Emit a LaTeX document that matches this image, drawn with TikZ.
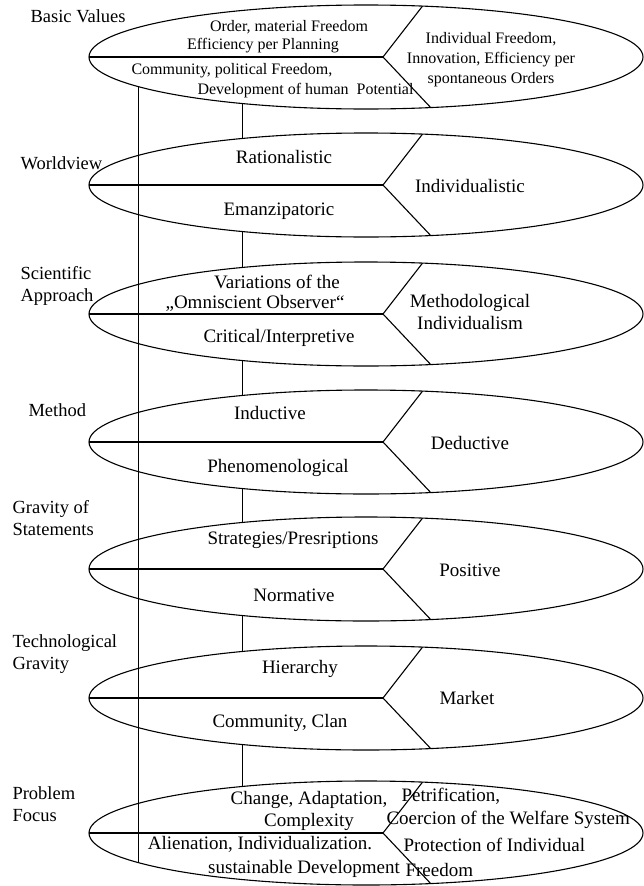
\documentclass[tikz,border=0pt]{standalone}
\usepackage{fontspec}
\setmainfont{Liberation Serif}
\usetikzlibrary{shapes.geometric,calc}

\begin{document}
\begin{tikzpicture}[x=1pt, y=-1pt, line width=1.1pt,
    field/.style={ellipse, draw, minimum width=554pt, minimum height=104pt, inner sep=0pt, outer sep=0pt},
    item/.style={font=\fontsize{19}{22.5}\selectfont, inner sep=0pt, align=center},
    fine/.style={font=\fontsize{16}{20}\selectfont, inner sep=0pt, align=center},
    heading/.style={font=\fontsize{18.5}{21.5}\selectfont, inner sep=0pt, align=left, anchor=west}]
    \useasboundingbox (0,0) rectangle (644,886);

    % the seven levels
    \node[field] (values)  at (366,57)  {};
    \node[field] (world)   at (366,185) {};
    \node[field] (science) at (366,314) {};
    \node[field] (method)  at (366,442) {};
    \node[field] (gravity) at (366,569) {};
    \node[field] (techno)  at (366,698) {};
    \node[field] (problem) at (366,833) {};

    \foreach \f in {values,world,science,method,gravity,techno,problem} {
        \coordinate (\f-tip) at ($(\f.center)+(17,0)$);
        \draw (\f.west) -- (\f-tip);
        \draw (\f.42) -- (\f-tip) -- (\f.-38.5);
    }

    % links
    \draw ([xshift=-2pt]values.201)  -- ([xshift=-2pt]values.201 |- world.159);
    \draw ([xshift=-2pt]world.201)   -- ([xshift=-2pt]world.201 |- science.159);
    \draw ([xshift=-2pt]science.201) -- ([xshift=-2pt]science.201 |- method.159);
    \draw ([xshift=-2pt]method.201)  -- ([xshift=-2pt]method.201 |- gravity.159);
    \draw ([xshift=-2pt]gravity.201) -- ([xshift=-2pt]gravity.201 |- techno.159);
    \draw ([xshift=-2pt]techno.201)  -- ([xshift=-2pt]techno.201 |- problem.159);
    \draw ([xshift=4pt, yshift=-1pt]values.187) -- ([xshift=4pt, yshift=-1pt]values.187 |- problem.187);

    % headings
    \node[heading] (values-h)  at (30,16)   {Basic Values};
    \node[heading] (world-h)   at (20,163)  {Worldview};
    \node[heading] (science-h) at (20,286)  {Scientific\\Approach};
    \node[heading] (method-h)  at (28,410)  {Method};
    \node[heading] (gravity-h) at (12,518)  {Gravity of\\Statements};
    \node[heading] (techno-h)  at (12,654)  {Technological\\Gravity};
    \node[heading] (problem-h) at (12,804)  {Problem\\Focus};

    % Basic Values
    \node[fine] (order) at (289,27) {Order, material Freedom};
    \node[fine] (plan)  at (263,46) {Efficiency per Planning};
    \node[fine, anchor=west] (comm)  at (131,71) {Community, political Freedom,};
    \node[fine, anchor=west] (human) at (197,91) {Development of human\ \ Potential};
    \node[fine] (free) at (491,60) {Individual Freedom,\\Innovation, Efficiency per\\spontaneous Orders};

    % Worldview
    \node[item] (ratio) at (284,157) {Rationalistic};
    \node[item] (eman)  at (279,211) {Emanzipatoric};
    \node[item] (indi)  at (470,186) {Individualistic};

    % Scientific Approach
    \node[item] (vari)  at (277,282) {Variations of the};
    \node[item] (omni)  at (255,303) {„Omniscient Observer“};
    \node[item] (crit)  at (279,338) {Critical/Interpretive};
    \node[item] (metho) at (470,312) {Methodological\\Individualism};

    % Method
    \node[item] (induc) at (270,413) {Inductive};
    \node[item] (pheno) at (278,468) {Phenomenological};
    \node[item] (deduc) at (470,443) {Deductive};

    % Gravity of Statements
    \node[item] (strat) at (293,540) {Strategies/Presriptions};
    \node[item] (norm)  at (294,595) {Normative};
    \node[item] (posit) at (470,570) {Positive};

    % Technological Gravity
    \node[item] (hier)  at (300,669) {Hierarchy};
    \node[item] (clan)  at (280,723) {Community, Clan};
    \node[item] (mark)  at (467,698) {Market};

    % Problem Focus
    \node[item] (change) at (309,811) {Change, Adaptation,\\Complexity};
    \node[item] (alien)  at (260,844) {Alienation, Individualization.};
    \node[item] (sust)   at (304,869) {sustainable Development};
    \node[item, anchor=west] (petri) at (401,796) {Petrification,};
    \node[item, anchor=west] (coerc) at (386,820) {Coercion of the Welfare System};
    \node[item, anchor=west] (prot)  at (403,845) {Protection of Individual};
    \node[item, anchor=west] (freed) at (405,870) {Freedom};
\end{tikzpicture}
\end{document}
